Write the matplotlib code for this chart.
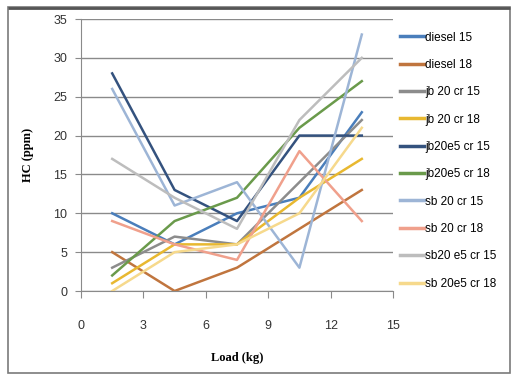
import matplotlib
matplotlib.use("Agg")
import matplotlib.pyplot as plt
from matplotlib.patches import Rectangle

# load points (kg) and HC readings (ppm) for each fuel / compression ratio
load = [1.5, 4.5, 7.5, 10.5, 13.5]

diesel_15 = [10, 6, 10, 12, 23]
diesel_18 = [5, 0, 3, 8, 13]
jb20_cr15 = [3, 7, 6, 14, 22]
jb20_cr18 = [1, 6, 6, 12, 17]
jb20e5_cr15 = [28, 13, 9, 20, 20]
jb20e5_cr18 = [2, 9, 12, 21, 27]
sb20_cr15 = [26, 11, 14, 3, 33]
sb20_cr18 = [9, 6, 4, 18, 9]
sb20e5_cr15 = [17, 12, 8, 22, 30]
sb20e5_cr18 = [0, 5, 6, 10, 21]

names = ["diesel 15", "diesel 18", "jb 20 cr 15", "jb 20 cr 18", "jb20e5 cr 15",
         "jb20e5 cr 18", "sb 20 cr 15", "sb 20 cr 18", "sb20 e5 cr 15", "sb 20e5 cr 18"]
series = [diesel_15, diesel_18, jb20_cr15, jb20_cr18, jb20e5_cr15,
          jb20e5_cr18, sb20_cr15, sb20_cr18, sb20e5_cr15, sb20e5_cr18]
colors = ["#4a7ebb", "#c0753e", "#8c8c8c", "#e8b830", "#34527e",
          "#6a9a4b", "#9db5d6", "#f0a08c", "#bdbdbd", "#f6d98c"]

plt.rcParams["font.family"] = ["Liberation Sans", "DejaVu Sans"]

fig = plt.figure(figsize=(5.18, 3.75), dpi=100)
fig.patch.set_facecolor("white")

# outer chart frame
fig.patches.append(Rectangle((8 / 518, 2 / 375), 502 / 518, 366 / 375,
                             transform=fig.transFigure, fill=False,
                             edgecolor="#7a7a7a", linewidth=1.2))
fig.patches.append(Rectangle((8 / 518, 367 / 375), 502 / 518, 0.0,
                             transform=fig.transFigure, fill=False,
                             edgecolor="#555555", linewidth=2))

ax = fig.add_axes([81 / 518, 1 - 291 / 375, 312 / 518, 272 / 375])

for name, vals, c in zip(names, series, colors):
    ax.plot(load, vals, color=c, linewidth=1.8, label=name)

ax.set_xlim(0, 15)
ax.set_ylim(0, 35)
ax.set_xticks(range(0, 16, 3))
ax.set_yticks(range(0, 36, 5))
ax.yaxis.grid(True, color="#8a8a8a", linewidth=1)
ax.set_axisbelow(True)

for s in ["top", "right"]:
    ax.spines[s].set_visible(False)
for s in ["left", "bottom"]:
    ax.spines[s].set_color("#8a8a8a")
ax.tick_params(axis="x", length=5, color="#8a8a8a", pad=16, labelsize=9,
               labelcolor="#333333")
ax.tick_params(axis="y", length=4, color="#8a8a8a", pad=6, labelsize=9,
               labelcolor="#333333")

ax.set_xlabel("Load (kg)", family="Liberation Serif", fontweight="bold",
              fontsize=9, labelpad=14)
ax.set_ylabel("HC (ppm)", family="Liberation Serif", fontweight="bold",
              fontsize=9, labelpad=14)

leg = ax.legend(loc="upper left", bbox_to_anchor=(1.0, 0.98), frameon=False,
                fontsize=8.5, handlelength=2.0, handletextpad=0.1,
                labelspacing=1.3, borderaxespad=0.2)
for h in leg.get_lines():
    h.set_linewidth(2.5)

fig.savefig("out.png", dpi=100)
